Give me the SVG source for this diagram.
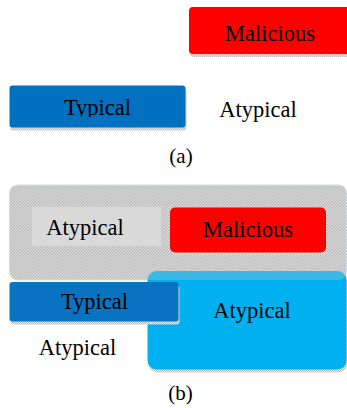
<svg xmlns="http://www.w3.org/2000/svg" width="347" height="408" viewBox="0 0 347 408">
  <style>
    .lbl { font-family: "Liberation Serif", "Times New Roman", serif; font-size: 22.5px; fill: #000; text-anchor: middle; }
    .cap { font-family: "Liberation Serif", "Times New Roman", serif; font-size: 21px; fill: #000; text-anchor: middle; }
    .shadow { fill: url(#shadowDots); }
  </style>
  <defs>
    <!-- fine checker used for soft drop shadows -->
    <pattern id="shadowDots" width="2" height="2" patternUnits="userSpaceOnUse">
      <rect width="2" height="2" fill="#e6e6e6"/>
      <rect width="1" height="1" fill="#bdbdbd"/>
      <rect x="1" y="1" width="1" height="1" fill="#bdbdbd"/>
    </pattern>
    <!-- checker fill of the outer grey region -->
    <pattern id="greyDots" width="3" height="3" patternUnits="userSpaceOnUse">
      <rect width="3" height="3" fill="#b8b8b8"/>
      <rect width="1.5" height="1.5" fill="#dedede"/>
      <rect x="1.5" y="1.5" width="1.5" height="1.5" fill="#dedede"/>
    </pattern>
    <clipPath id="typClipA">
      <rect x="0" y="0" width="347" height="117"/>
    </clipPath>
    <clipPath id="greyClip">
      <rect x="9.5" y="185" width="337" height="95" rx="8"/>
    </clipPath>
  </defs>

  <!-- (a) -->
  <g id="a-malicious">
    <rect class="shadow" x="190" y="10" width="170" height="47" rx="4"/>
    <rect x="189" y="7" width="170" height="47" rx="4" fill="#ff0000"/>
    <text class="lbl" x="270" y="41">Malicious</text>
  </g>
  <g id="a-typical">
    <rect class="shadow" x="10.5" y="88.5" width="176" height="42" rx="3"/>
    <rect x="9.5" y="85.5" width="176" height="42" rx="3" fill="#0070c0"/>
    <text class="lbl" x="97.5" y="115" clip-path="url(#typClipA)">Typical</text>
  </g>
  <g id="a-atypical">
    <text class="lbl" x="258" y="117">Atypical</text>
  </g>
  <text class="cap" x="181" y="163">(a)</text>

  <!-- (b) -->
  <g id="b-outer">
    <rect x="9.5" y="185" width="337" height="95" rx="8" fill="url(#greyDots)" stroke="#d4deea" stroke-width="1"/>
  </g>
  <g id="b-atypical-inner">
    <rect x="32" y="207" width="129" height="39" fill="#d9d9d9"/>
    <text class="lbl" x="85" y="235">Atypical</text>
  </g>
  <g id="b-malicious">
    <rect class="shadow" x="171" y="210" width="156" height="45" rx="5"/>
    <rect x="170" y="207.5" width="156" height="45" rx="5" fill="#ff0000"/>
    <text class="lbl" x="248" y="237">Malicious</text>
  </g>
  <g id="b-atypical-blue">
    <rect class="shadow" x="148.5" y="274" width="199" height="98.5" rx="9"/>
    <rect x="147.5" y="271" width="199" height="98.5" rx="9" fill="#00b0f0"/>
    <!-- grey region showing through where the boxes overlap -->
    <rect x="147.5" y="271" width="199" height="12" fill="url(#greyDots)" opacity="0.3" clip-path="url(#greyClip)"/>
    <text class="lbl" x="252" y="318">Atypical</text>
  </g>
  <g id="b-typical">
    <rect class="shadow" x="10.5" y="285" width="169" height="39.5" rx="3"/>
    <rect x="9.5" y="282" width="169" height="39.5" rx="3" fill="#0070c0" opacity="0.97"/>
    <text class="lbl" x="94.5" y="309">Typical</text>
  </g>
  <g id="b-atypical-plain">
    <text class="lbl" x="77.5" y="355">Atypical</text>
  </g>
  <text class="cap" x="180.5" y="400">(b)</text>
</svg>
